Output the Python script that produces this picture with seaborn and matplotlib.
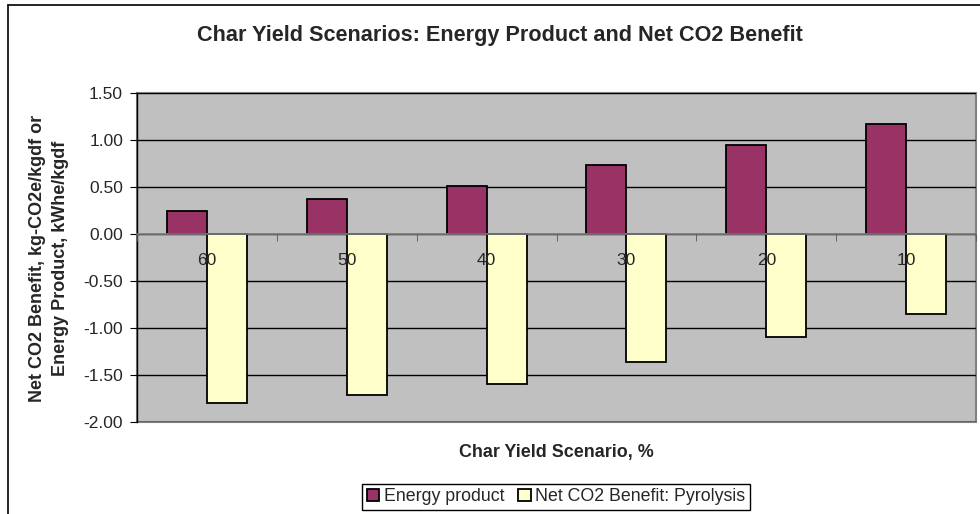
import matplotlib
matplotlib.use("Agg")
import matplotlib.pyplot as plt
import seaborn as sns
import pandas as pd
from matplotlib.patches import Rectangle
from matplotlib.lines import Line2D
from matplotlib.ticker import FormatStrFormatter

# data
scenarios = ["60", "50", "40", "30", "20", "10"]
energy_product = [0.24, 0.37, 0.51, 0.73, 0.95, 1.17]
net_co2_benefit = [-1.80, -1.71, -1.60, -1.36, -1.10, -0.85]
series_names = ["Energy product", "Net CO2 Benefit: Pyrolysis"]
y_ticks = [-2.0, -1.5, -1.0, -0.5, 0.0, 0.5, 1.0, 1.5]

df = pd.DataFrame({
    "scenario": scenarios * 2,
    "value": energy_product + net_co2_benefit,
    "series": [series_names[0]] * len(scenarios) + [series_names[1]] * len(scenarios),
})

sns.set_style("white")
plt.rcParams["font.family"] = ["Liberation Sans", "DejaVu Sans"]

W, H = 980, 514
fig = plt.figure(figsize=(W / 100, H / 100), dpi=100)
ax = fig.add_axes([137 / W, 1 - 422 / H, (976 - 137) / W, (422 - 93) / H])
ax.set_facecolor("#C0C0C0")

sns.barplot(data=df, x="scenario", y="value", hue="series", order=scenarios,
            hue_order=series_names, palette=["#993366", "#FFFFCC"], width=0.571,
            edgecolor="black", linewidth=1.3, saturation=1, ax=ax)

ax.set_ylim(-2.0, 1.5)
ax.set_xlim(-0.5, len(scenarios) - 0.5)
ax.set_yticks(y_ticks)
ax.yaxis.set_major_formatter(FormatStrFormatter("%.2f"))
ax.yaxis.grid(True, color="black", linewidth=1)
ax.set_axisbelow(True)
ax.xaxis.set_zorder(3)  # category labels drawn over the bars, like Excel
ax.set_xlabel("")
ax.set_ylabel("")

# spines: x axis sits at zero (Excel style), gray plot-area frame
for s in ["top", "right", "bottom"]:
    ax.spines[s].set_visible(False)
ax.spines["left"].set_color("black")
ax.spines["left"].set_linewidth(1)
ax.spines["bottom"].set_visible(True)
ax.spines["bottom"].set_position(("data", 0))
ax.spines["bottom"].set_color("#808080")
ax.spines["bottom"].set_linewidth(1.2)
ax.add_patch(Rectangle((0, 0), 1, 1, transform=ax.transAxes, fill=False,
                       edgecolor="#808080", linewidth=1.5, zorder=0.5, clip_on=False))

ax.tick_params(axis="y", left=True, direction="out", length=5, color="black",
               labelsize=12.5, pad=5)
ax.set_xticks(range(len(scenarios)))
ax.set_xticklabels(scenarios)
ax.set_xticks([i - 0.5 for i in range(len(scenarios) + 1)], minor=True)
ax.tick_params(axis="x", which="major", bottom=True, length=0, labelsize=12.5, pad=14)
ax.tick_params(axis="x", which="minor", bottom=True, direction="out", length=5,
               color="#555555")

ax.legend(loc="upper center", bbox_to_anchor=(556 / W, 1 - 484 / H),
          bbox_transform=fig.transFigure, ncol=2, frameon=True, fancybox=False,
          edgecolor="black", framealpha=1, fontsize=12.8, handlelength=0.7,
          handleheight=0.7, handletextpad=0.25, columnspacing=0.8,
          borderpad=0.25, borderaxespad=0)
ax.get_legend().get_frame().set_linewidth(1)

fig.text(500 / W, 1 - 35 / H, "Char Yield Scenarios: Energy Product and Net CO2 Benefit",
         ha="center", va="center", fontsize=15.6, fontweight="bold")
fig.text(556 / W, 1 - 452 / H, "Char Yield Scenario, %", ha="center", va="center",
         fontsize=12.9, fontweight="bold")
fig.text(49 / W, 1 - 258 / H,
         "Net CO2 Benefit, kg-CO2e/kgdf or\nEnergy Product, kWhe/kgdf",
         rotation=90, ha="center", va="center", fontsize=13, fontweight="bold",
         linespacing=1.45)

# chart border (left and top edges visible in the original)
fig.add_artist(Line2D([8 / W, 8 / W], [0, 1 - 5 / H], transform=fig.transFigure,
                      color="black", linewidth=1.2))
fig.add_artist(Line2D([8 / W, 1], [1 - 5 / H, 1 - 5 / H], transform=fig.transFigure,
                      color="black", linewidth=1.2))

fig.savefig("out.png", dpi=100)
